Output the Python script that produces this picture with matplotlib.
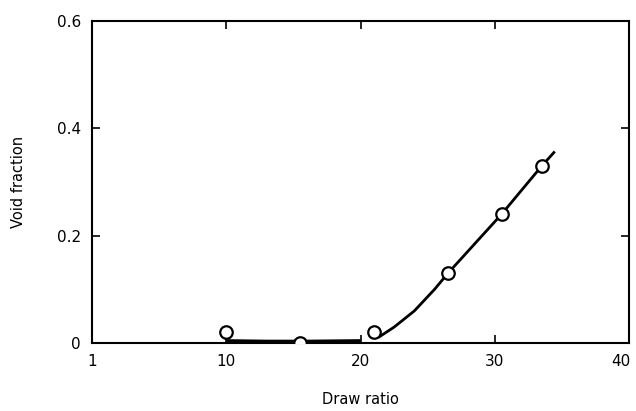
import matplotlib
matplotlib.use('Agg')
import matplotlib.pyplot as plt
import matplotlib.transforms as mtransforms

# measured points
draw_ratio = [10, 15.5, 21, 26.5, 30.5, 33.5]
void_fraction = [0.02, 0.0, 0.02, 0.13, 0.24, 0.33]

# hand-drawn curve, flat part and rising part
flat_x = [10, 13, 16, 20]
flat_y = [0.003, 0.002, 0.002, 0.003]
curve_x = [21.4, 22.5, 24, 25.5, 26.5, 28.5, 30.5, 32, 33.5, 34.4]
curve_y = [0.012, 0.03, 0.06, 0.1, 0.13, 0.185, 0.24, 0.285, 0.33, 0.355]

x_ticks = [0, 10, 20, 30, 40]
x_ticklabels = ['1', '10', '20', '30', '40']
y_ticks = [0, 0.2, 0.4, 0.6]
y_ticklabels = ['0', '0.2', '0.4', '0.6']

plt.rcParams['font.family'] = ['DejaVu Sans']

fig = plt.figure(figsize=(6.36, 4.11), dpi=100)
ax = fig.add_axes([0.145, 0.165, 0.844, 0.784])

ax.plot(flat_x, flat_y, color='black', linewidth=3.5, solid_capstyle='butt')
ax.plot(curve_x, curve_y, color='black', linewidth=2)
ax.plot(draw_ratio, void_fraction, linestyle='none', marker='o', markersize=9,
        markerfacecolor='white', markeredgecolor='black', markeredgewidth=1.6, zorder=5)

ax.set_xlim(0, 40)
ax.set_ylim(0, 0.6)
ax.set_xticks(x_ticks)
ax.set_xticklabels(x_ticklabels)
ax.set_yticks(y_ticks)
ax.set_yticklabels(y_ticklabels)
ax.tick_params(direction='in', top=True, right=True, length=6, width=1.2,
               labelsize=11, pad=8)
for s in ax.spines.values():
    s.set_linewidth(1.5)

# last x label sits at the right edge, nudge it left so it is not cut
last = ax.get_xticklabels()[-1]
last.set_transform(last.get_transform() +
                   mtransforms.ScaledTranslation(-6 / 72, 0, fig.dpi_scale_trans))

ax.set_xlabel('Draw ratio', fontsize=10.5, labelpad=16)
ax.set_ylabel('Void fraction', fontsize=10.5, labelpad=22)

fig.savefig('out.png', dpi=100)
